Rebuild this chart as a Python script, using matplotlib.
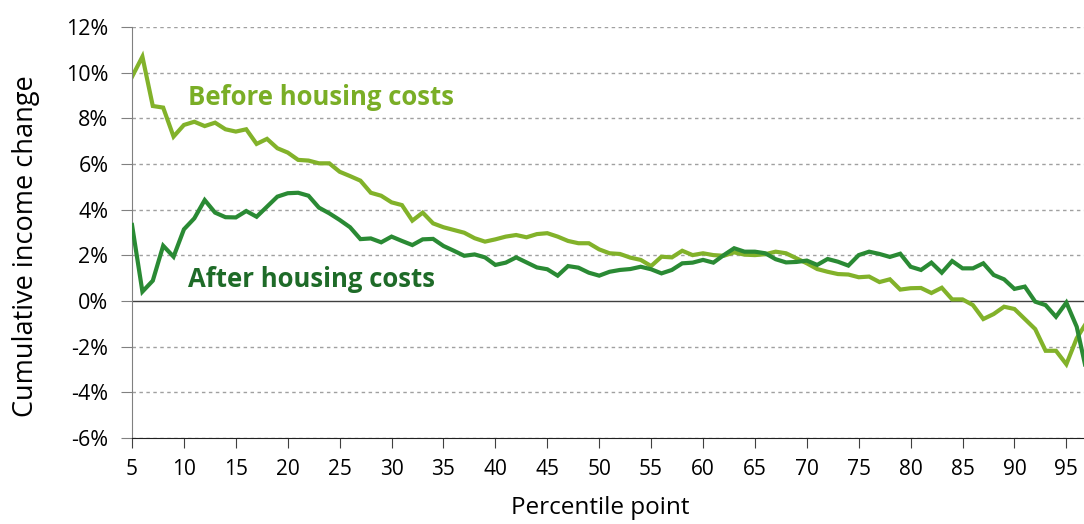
import numpy as np
import matplotlib.pyplot as plt
from matplotlib.ticker import FuncFormatter

plt.rcParams['font.family'] = ['Open Sans', 'DejaVu Sans']

# percentile points 5..97
percentile = np.arange(5, 98)

# cumulative income change (%)
before_hc = [9.82, 10.7, 8.54, 8.47, 7.2, 7.71, 7.85, 7.66, 7.81, 7.52,
             7.42, 7.52, 6.88, 7.1, 6.69, 6.5, 6.18, 6.15, 6.03, 6.03,
             5.66, 5.47, 5.27, 4.74, 4.61, 4.32, 4.2, 3.52, 3.87, 3.4,
             3.23, 3.11, 2.99, 2.75, 2.6, 2.7, 2.82, 2.89, 2.79, 2.93,
             2.97, 2.82, 2.63, 2.53, 2.53, 2.26, 2.09, 2.06, 1.9, 1.8,
             1.53, 1.94, 1.91, 2.2, 2.01, 2.09, 2.01, 1.98, 2.13, 2.03,
             2.01, 2.05, 2.16, 2.09, 1.87, 1.65, 1.4, 1.28, 1.18, 1.16,
             1.04, 1.07, 0.83, 0.95, 0.5, 0.56, 0.57, 0.35, 0.58, 0.07,
             0.07, -0.18, -0.79, -0.57, -0.25, -0.35, -0.79, -1.23, -2.18, -2.18,
             -2.77, -1.63, -0.9]

after_hc = [3.33, 0.41, 0.89, 2.42, 1.94, 3.14, 3.62, 4.42, 3.87, 3.67,
            3.66, 3.94, 3.69, 4.13, 4.57, 4.72, 4.74, 4.61, 4.09, 3.84,
            3.55, 3.23, 2.71, 2.74, 2.57, 2.82, 2.63, 2.45, 2.7, 2.72,
            2.41, 2.2, 1.98, 2.04, 1.91, 1.58, 1.68, 1.91, 1.69, 1.47,
            1.39, 1.11, 1.53, 1.46, 1.24, 1.11, 1.28, 1.36, 1.4, 1.5,
            1.39, 1.21, 1.36, 1.65, 1.68, 1.8, 1.68, 2.01, 2.31, 2.16,
            2.16, 2.09, 1.83, 1.69, 1.71, 1.77, 1.58, 1.84, 1.72, 1.55,
            2.01, 2.16, 2.06, 1.93, 2.07, 1.5, 1.36, 1.68, 1.24, 1.75,
            1.43, 1.43, 1.65, 1.14, 0.95, 0.53, 0.63, -0.03, -0.18, -0.69,
            -0.07, -1.13, -3.2]

x_ticks = list(range(5, 100, 5))
y_ticks = list(range(-6, 13, 2))

light = '#82b22a'
dark = '#2a8a34'

fig = plt.figure(figsize=(10.84, 5.24), dpi=100)
ax = fig.add_axes([0.1218, 0.1641, 0.8782, 0.7844])

for t in y_ticks:
    if t == 0:
        ax.axhline(0, color='#404040', lw=1.0, zorder=1)
    else:
        ax.axhline(t, color='#a0a0a0', lw=1.0, ls=(0, (2.5, 2.5)), zorder=1)

ax.plot(percentile, after_hc, color=dark, lw=3.0, zorder=3, solid_joinstyle='miter')
ax.plot(percentile, before_hc, color=light, lw=3.0, zorder=2, solid_joinstyle='miter')

ax.set_xlim(5, 96.7)
ax.set_ylim(-6, 12)
ax.set_xticks(x_ticks)
ax.set_yticks(y_ticks)
ax.yaxis.set_major_formatter(FuncFormatter(lambda v, p: f'{v:.0f}%'))

for s in ['top', 'right']:
    ax.spines[s].set_visible(False)
ax.spines['left'].set_color('#808080')
ax.spines['bottom'].set_color('#202020')
ax.tick_params(axis='y', direction='out', length=8, color='#808080', labelsize=15.5, pad=9)
ax.tick_params(axis='x', direction='out', length=7, color='#404040', labelsize=15, pad=8)

ax.set_xlabel('Percentile point', fontsize=17.5)
ax.xaxis.set_label_coords(0.492, -0.142)
ax.set_ylabel('Cumulative income change', fontsize=19.5)
ax.yaxis.set_label_coords(-0.097, 0.467)

ax.text(10.4, 8.9, 'Before housing costs', color='#7aae26', fontsize=18.5,
        fontweight='bold', va='center', ha='left')
ax.text(10.4, 0.95, 'After housing costs', color='#1e6b28', fontsize=18.5,
        fontweight='bold', va='center', ha='left')

fig.savefig('out.png', dpi=100)
